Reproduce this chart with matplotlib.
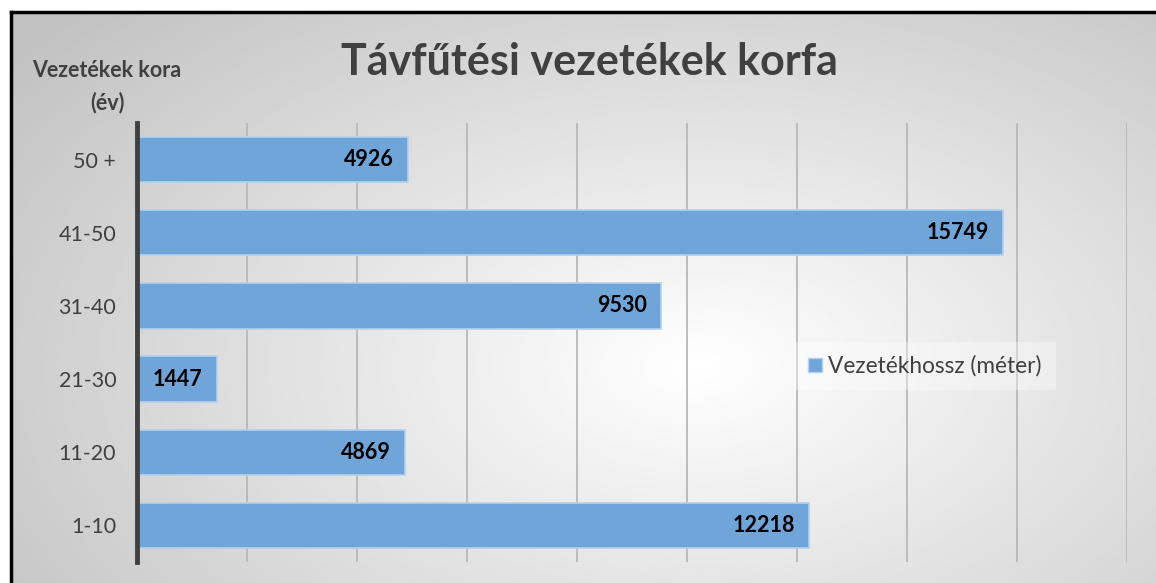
import numpy as np
import matplotlib.pyplot as plt
from matplotlib.lines import Line2D
from matplotlib.patches import Patch

# data
categories = ['1-10', '11-20', '21-30', '31-40', '41-50', '50 +']
lengths = [12218, 4869, 1447, 9530, 15749, 4926]
series_name = 'Vezetékhossz (méter)'
title = 'Távfűtési vezetékek korfa'
y_title = 'Vezetékek kora\n(év)'

plt.rcParams['font.family'] = ['Lato', 'DejaVu Sans']

W, H = 1156, 583
fig = plt.figure(figsize=(W / 100, H / 100), dpi=100)
fig.patch.set_facecolor('white')

# radial gradient background
bg = fig.add_axes([12 / W, 0, 1 - 12 / W, 1 - 12 / H])
bg.set_axis_off()
xx, yy = np.meshgrid(np.linspace(0, 1, 400), np.linspace(0, 1, 200))
r = np.sqrt(((xx - 0.6) / 0.75) ** 2 + ((yy - 0.62) / 0.9) ** 2)
r = np.clip(r, 0, 1)
shade = 1.0 - 0.24 * r
bg.imshow(shade, cmap='gray', vmin=0, vmax=1, aspect='auto', extent=[0, 1, 0, 1])

# black frame (top and left)
fig.add_artist(Line2D([11 / W, 1], [1 - 11.5 / H] * 2, color='black', lw=2.5))
fig.add_artist(Line2D([11 / W] * 2, [0, 1 - 11.5 / H], color='black', lw=2.5))

ax = fig.add_axes([137 / W, 1 - 562 / H, 990 / W, 439 / H])
ax.patch.set_alpha(0)
y = np.arange(len(categories))
bars = ax.barh(y, lengths, height=0.62, color='#6fa5d9', edgecolor='#b4d0ee', linewidth=1.2, zorder=3, label=series_name)
ax.set_xlim(0, 18000)
ax.set_ylim(-0.5, len(categories) - 0.5)
ax.set_xticks(np.arange(0, 18001, 2000))
ax.set_xticklabels([])
ax.tick_params(axis='x', length=0)
ax.tick_params(axis='y', length=0, pad=15, labelsize=15.5, labelcolor='#404040')
ax.set_yticks(y)
ax.set_yticklabels(categories)
ax.grid(axis='x', color='#b8b8b8', lw=1.3, zorder=1)
for s in ['top', 'right', 'bottom']:
    ax.spines[s].set_visible(False)
ax.spines['left'].set_color('#404040')
ax.spines['left'].set_linewidth(3.5)
ax.spines['left'].set_zorder(4)

for b, v in zip(bars, lengths):
    ax.text(v - 260, b.get_y() + b.get_height() / 2, str(v), ha='right', va='center',
            fontsize=15.5, fontweight='bold', color='black', zorder=5)

fig.text(589 / W, 1 - 62 / H, title, ha='center', va='center', fontsize=31, fontweight='bold', color='#404040')
fig.text(107 / W, 1 - 87 / H, y_title, ha='center', va='center', fontsize=15.5, fontweight='bold',
         color='#404040', linespacing=1.6)

leg = ax.legend(handles=[Patch(facecolor='#6fa5d9', edgecolor='#b4d0ee')], labels=[series_name],
                loc='center', bbox_to_anchor=((925 - 137) / 990, (562 - 366) / 439),
                fontsize=16.3, frameon=True, handlelength=0.6, handleheight=0.6, handletextpad=0.3,
                fancybox=False, borderpad=0.6)
leg.get_frame().set_facecolor('white')
leg.get_frame().set_alpha(0.35)
leg.get_frame().set_edgecolor('none')
for t in leg.get_texts():
    t.set_color('#404040')

fig.savefig('out.png', dpi=100)
